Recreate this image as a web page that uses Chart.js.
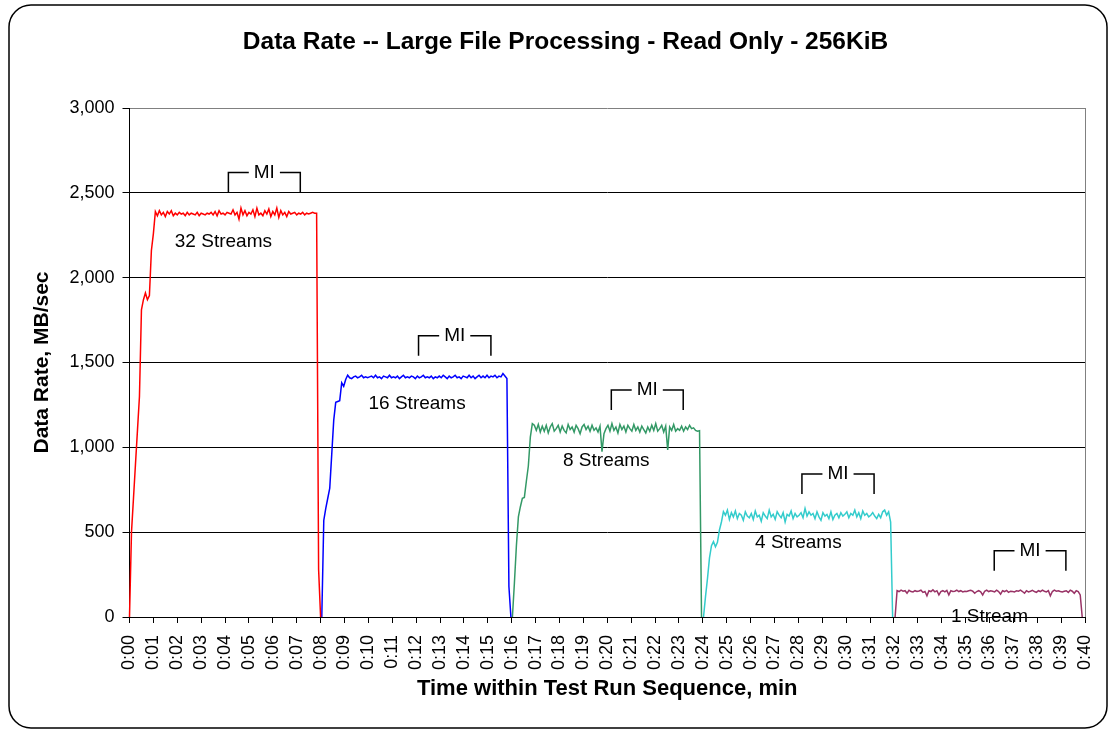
<!DOCTYPE html>
<html>
<head>
<meta charset="utf-8">
<script src="https://cdn.jsdelivr.net/npm/chart.js@4.4.1/dist/chart.umd.min.js"></script>
<style>
  html, body { margin: 0; padding: 0; background: #fff; }
  #wrap { position: relative; width: 1113px; height: 732px; }
</style>
</head>
<body>
<div id="wrap"><canvas id="rate-chart" width="1113" height="732"></canvas></div>
<script>
// one sample every 5 seconds, one row = one minute
const SAMPLE_MIN = 5 / 60;

const chartTitle = 'Data Rate -- Large File Processing - Read Only - 256KiB';
const seriesNames = ['32 Streams', '16 Streams', '8 Streams', '4 Streams', '1 Stream'];
const seriesColors = ['#FF0000', '#0000FF', '#339966', '#33CCCC', '#993366'];
const seriesStart = [0, 8.05, 16.03, 24.03, 32.05]; // minutes

const rate32 = [
    0, 500, 700, 900, 1100, 1300, 1810, 1870, 1910, 1870, 1895, 2160,
    2260, 2390, 2365, 2395, 2370, 2385, 2360, 2390, 2375, 2395, 2365, 2380,
    2370, 2385, 2375, 2380, 2365, 2385, 2370, 2380, 2375, 2370, 2385, 2365,
    2380, 2375, 2370, 2380, 2375, 2385, 2370, 2390, 2365, 2395, 2375, 2380,
    2370, 2385, 2380, 2375, 2400, 2370, 2385, 2345, 2410, 2370, 2395, 2365,
    2385, 2375, 2400, 2360, 2410, 2370, 2380, 2365, 2395, 2375, 2405, 2360,
    2390, 2370, 2410, 2355, 2395, 2370, 2385, 2360, 2390, 2375, 2380, 2385,
    2370, 2380, 2375, 2385, 2370, 2380, 2375, 2380, 2385, 2380, 2380, 280,
    0
];
const rate16 = [
    0, 570, 640, 700, 760, 960, 1160, 1265, 1270, 1275, 1380, 1360,
    1400, 1425, 1410, 1405, 1415, 1420, 1410, 1415, 1425, 1410, 1415, 1410,
    1415, 1420, 1410, 1425, 1410, 1415, 1405, 1420, 1415, 1410, 1425, 1410,
    1415, 1410, 1420, 1405, 1415, 1425, 1410, 1415, 1410, 1420, 1415, 1405,
    1420, 1410, 1415, 1425, 1410, 1415, 1410, 1420, 1405, 1415, 1410, 1420,
    1410, 1425, 1415, 1405, 1420, 1410, 1415, 1425, 1410, 1415, 1405, 1420,
    1415, 1410, 1425, 1410, 1420, 1405, 1415, 1425, 1410, 1420, 1410, 1425,
    1410, 1420, 1415, 1425, 1410, 1420, 1415, 1435, 1420, 1405, 180, 0
];
const rate8 = [
    0, 200, 420, 590, 650, 700, 705, 800, 890, 1060, 1140, 1130,
    1100, 1135, 1090, 1125, 1095, 1130, 1085, 1120, 1140, 1095, 1110, 1130,
    1090, 1125, 1100, 1085, 1135, 1105, 1120, 1090, 1130, 1110, 1080, 1120,
    1135, 1105, 1125, 1095, 1130, 1100, 1115, 1090, 1125, 975, 1080, 1110,
    1130, 1095, 1140, 1100, 1120, 1085, 1135, 1105, 1125, 1090, 1130, 1110,
    1095, 1135, 1100, 1120, 1090, 1125, 1105, 1085, 1120, 1095, 1130, 1100,
    1140, 1095, 1110, 1130, 1090, 1125, 985, 1120, 1100, 1135, 1095, 1110,
    1100, 1125, 1095, 1120, 1105, 1130, 1110, 1115, 1100, 1095, 1098, 0
];
const rate4 = [
    0, 120, 228, 348, 420, 444, 414, 440, 513, 560, 621, 600,
    630, 575, 615, 590, 625, 580, 610, 600, 570, 620, 595, 585,
    610, 575, 625, 590, 600, 565, 615, 595, 580, 630, 590, 605,
    575, 620, 600, 585, 615, 560, 605, 595, 625, 580, 610, 590,
    600, 615, 585, 640, 595, 620, 600, 610, 580, 620, 590, 570,
    615, 595, 605, 580, 620, 575, 600, 610, 585, 615, 595, 605,
    620, 585, 610, 600, 630, 590, 615, 580, 625, 600, 610, 590,
    600, 615, 595, 580, 605, 585, 620, 630, 600, 620, 560, 0
];
const rate1 = [
    0, 155, 150, 158, 152, 155, 140, 157, 150, 148, 155, 150,
    153, 158, 145, 150, 125, 155, 150, 160, 148, 155, 130, 150,
    155, 148, 157, 130, 155, 150, 152, 158, 150, 155, 148, 152,
    150, 155, 158, 152, 140, 150, 155, 148, 130, 152, 158, 150,
    155, 152, 148, 158, 150, 135, 155, 150, 157, 145, 152, 150,
    148, 155, 152, 158, 150, 140, 155, 148, 152, 157, 150, 145,
    155, 150, 158, 152, 148, 155, 125, 150, 158, 152, 155, 150,
    148, 152, 155, 145, 158, 152, 140, 155, 150, 130, 0
];
const seriesValues = [rate32, rate16, rate8, rate4, rate1];

// text labels under each plateau
const labelTimes = [3.93, 12.04, 19.96, 28.0, 36.0];
const labelValues = [2213, 1257, 920, 436, 0];

// measurement interval brackets
const miStart = [4.14, 12.1, 20.17, 28.15, 36.2];
const miEnd = [7.15, 15.13, 23.18, 31.17, 39.2];
const miLevel = [2620, 1658, 1338, 843, 391];

const FONT = '"Liberation Sans", Arial, sans-serif';
Chart.defaults.font.family = FONT;
Chart.defaults.color = '#000';

function toPoints(start, values) {
    return values.map((v, i) => ({ x: start + i * SAMPLE_MIN, y: v }));
}

const framePlugin = {
    id: 'frame',
    beforeDraw(chart) {
        const ctx = chart.ctx;
        ctx.save();
        ctx.fillStyle = '#fff';
        ctx.fillRect(0, 0, chart.width, chart.height);
        ctx.beginPath();
        ctx.roundRect(9, 5, 1098, 723, 22);
        ctx.lineWidth = 1.5;
        ctx.strokeStyle = '#000';
        ctx.stroke();
        // title sits a bit right of the canvas centre, as in the original
        ctx.font = 'bold 24.5px ' + FONT;
        ctx.fillStyle = '#000';
        ctx.textAlign = 'center';
        ctx.textBaseline = 'middle';
        ctx.fillText(chartTitle, 565.5, 42);
        ctx.restore();
    },
    beforeDatasetsDraw(chart) {
        const { ctx, chartArea: a } = chart;
        ctx.save();
        ctx.strokeStyle = '#808080';
        ctx.lineWidth = 1;
        ctx.beginPath();
        ctx.moveTo(a.right + 0.5, a.top);
        ctx.lineTo(a.right + 0.5, a.bottom);
        ctx.stroke();
        ctx.restore();
    }
};

const notesPlugin = {
    id: 'streamNotes',
    afterDatasetsDraw(chart) {
        const { ctx, scales: { x, y } } = chart;
        ctx.save();
        ctx.font = '19px ' + FONT;
        ctx.fillStyle = '#000';
        ctx.textAlign = 'center';
        ctx.textBaseline = 'middle';
        seriesNames.forEach((txt, i) => {
            ctx.fillText(txt, x.getPixelForValue(labelTimes[i]), y.getPixelForValue(labelValues[i]));
        });
        ctx.strokeStyle = '#000';
        ctx.lineWidth = 1.5;
        miStart.forEach((t0, i) => {
            const x0 = x.getPixelForValue(t0);
            const x1 = x.getPixelForValue(miEnd[i]);
            const yt = y.getPixelForValue(miLevel[i]);
            const xm = (x0 + x1) / 2;
            const half = ctx.measureText('MI').width / 2 + 5;
            ctx.beginPath();
            ctx.moveTo(x0, yt + 20);
            ctx.lineTo(x0, yt);
            ctx.lineTo(xm - half, yt);
            ctx.moveTo(xm + half, yt);
            ctx.lineTo(x1, yt);
            ctx.lineTo(x1, yt + 20);
            ctx.stroke();
            ctx.fillText('MI', xm, yt);
        });
        ctx.restore();
    }
};

const ctx = document.getElementById('rate-chart').getContext('2d');
const rateChart = new Chart(ctx, {
    type: 'line',
    data: {
        datasets: seriesNames.map((name, i) => ({
            label: name,
            data: toPoints(seriesStart[i], seriesValues[i]),
            borderColor: seriesColors[i],
            backgroundColor: seriesColors[i],
            borderWidth: 1.5,
            pointRadius: 0,
            tension: 0,
            clip: 4
        }))
    },
    options: {
        responsive: false,
        animation: false,
        devicePixelRatio: 1,
        layout: { padding: { left: 10, right: 28, top: 108, bottom: 10 } },
        plugins: {
            legend: { display: false },
            tooltip: { enabled: false },
            title: { display: false }
        },
        scales: {
            x: {
                type: 'linear',
                min: 0,
                max: 40,
                ticks: {
                    stepSize: 1,
                    autoSkip: false,
                    minRotation: 90,
                    maxRotation: 90,
                    padding: 12,
                    font: { size: 18 },
                    callback: v => '0:' + String(v).padStart(2, '0')
                },
                grid: { drawOnChartArea: false, tickLength: 6, color: '#000' },
                border: { color: '#000', width: 1 },
                title: {
                    display: true,
                    text: 'Time within Test Run Sequence, min',
                    font: { size: 22, weight: 'bold' },
                    padding: { top: 0, bottom: 20 }
                },
                afterFit: s => { s.height = 105; s.paddingRight = 0; }
            },
            y: {
                min: 0,
                max: 3000,
                ticks: {
                    stepSize: 500,
                    padding: 8,
                    font: { size: 18 },
                    callback: v => v.toLocaleString('en-US')
                },
                grid: {
                    color: c => (c.tick && c.tick.value === 3000 ? '#808080' : '#000'),
                    tickColor: '#000',
                    tickLength: 7,
                    lineWidth: 1
                },
                border: { color: '#000', width: 1 },
                title: {
                    display: true,
                    text: 'Data Rate, MB/sec',
                    font: { size: 21, weight: 'bold' },
                    padding: { top: 20, bottom: 0 }
                },
                afterFit: s => { s.width = 119.5; }
            }
        }
    },
    plugins: [framePlugin, notesPlugin]
});
</script>
</body>
</html>
